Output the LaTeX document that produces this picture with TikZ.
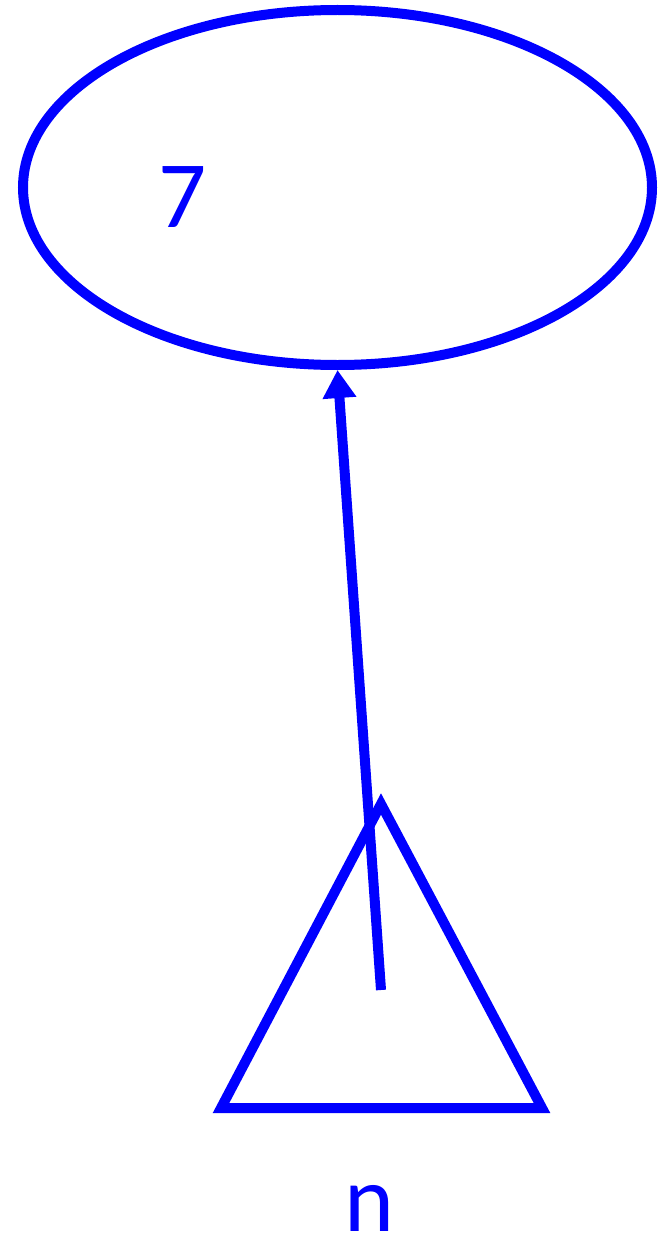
\documentclass[tikz,border=0pt]{standalone}
\usepackage{fontspec}
\setmainfont{Carlito}
\usetikzlibrary{arrows.meta,shapes.geometric}
\begin{document}
\begin{tikzpicture}[x=1pt,y=-1pt,
  shape line/.style={draw=blue,line width=10pt},
  lbl/.style={text=blue,font=\fontsize{95}{100}\selectfont,inner sep=0pt,anchor=base}]
\useasboundingbox (0,0) rectangle (671,1236);
\node[shape line,ellipse,minimum width=629pt,minimum height=355pt,inner sep=0pt] (e) at (337.5,187.5) {};
\node[lbl] (seven) at (183,227) {7};
\draw[shape line,line join=miter] (381,804) -- (221,1108) -- (542,1108) -- cycle;
\coordinate (tri) at (381,990);
\node[lbl] (n) at (369,1231) {n};
\draw[blue,line width=10pt,-{Triangle[width=32pt,length=28pt]}] (tri) -- (e.south);
\end{tikzpicture}
\end{document}
